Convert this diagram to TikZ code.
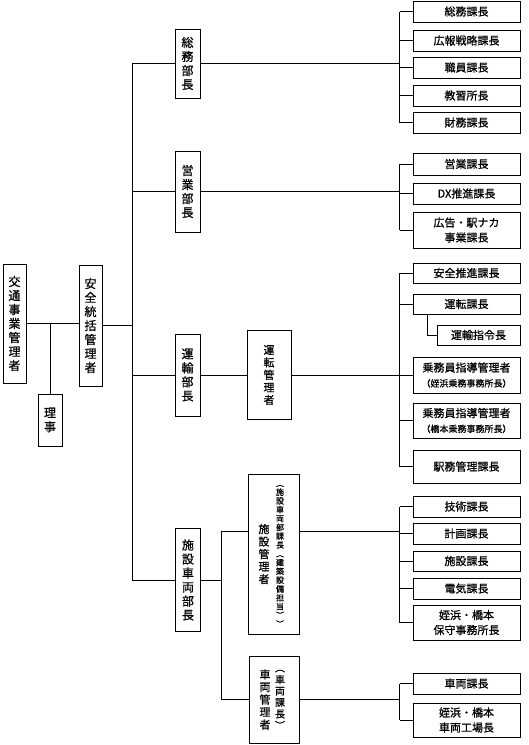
\documentclass[tikz,border=0pt]{standalone}
\usepackage{fontspec}
\setmainfont{Noto Sans CJK JP}[FakeBold=0.8]
\newcommand{\shoji}[1]{{\fontsize{9}{15}\selectfont#1}}

\begin{document}
\begin{tikzpicture}[x=1pt,y=-1pt,line width=0.7pt,
  box/.style={draw,line width=0.8pt,inner sep=0pt,align=center},
  dept/.style={box,font=\fontsize{12}{14}\selectfont},
  kanri/.style={box,font=\fontsize{11}{12.5}\selectfont},
  kaku/.style={inner sep=0pt,align=center},
  ka/.style={box,minimum width=107pt,minimum height=21pt,font=\fontsize{11}{15}\selectfont}]
\useasboundingbox (0,0) rectangle (528,745);

\node[dept,minimum width=23pt,minimum height=119pt] (kotsu) at (14.5,323.5) {交\\通\\事\\業\\管\\理\\者};
\node[dept,minimum width=24pt,minimum height=52pt] (riji) at (50,420) {理\\事};
\node[dept,minimum width=23pt,minimum height=121pt] (anzen) at (90.5,325.5) {安\\全\\統\\括\\管\\理\\者};
\coordinate (hon) at (132,0);
\draw (kotsu.east) -- (kotsu.east -| anzen.west);
\draw (riji.north) -- (riji.north |- kotsu.east);
\draw (anzen.east) -- (anzen.east -| hon);

\node[dept,minimum width=25pt,minimum height=69pt] (somu) at (187.5,63.5) {総\\務\\部\\長};
\node[dept,minimum width=25pt,minimum height=81pt] (eigyo) at (187.5,191.5) {営\\業\\部\\長};
\node[dept,minimum width=25pt,minimum height=82pt] (unyu) at (187.5,375) {運\\輸\\部\\長};
\node[dept,minimum width=25pt,minimum height=103pt] (shisha) at (188,580) {施\\設\\車\\両\\部\\長};
\draw (somu.west -| hon) -- (shisha.west -| hon);
\draw (somu.west) -- (somu.west -| hon) (eigyo.west) -- (eigyo.west -| hon)
  (unyu.west) -- (unyu.west -| hon) (shisha.west) -- (shisha.west -| hon);

\coordinate (bus) at (399.5,0);

\node[ka] (somuka) at (466.5,11.5) {総務課長};
\node[ka] (koho) at (466.5,40.5) {広報戦略課長};
\node[ka] (shokuin) at (466.5,67.5) {職員課長};
\node[ka] (kyoshu) at (466.5,95.5) {教習所長};
\node[ka] (zaimu) at (466.5,122.5) {財務課長};
\draw (somu.east) -- (somu.east -| bus);
\draw (somuka.west -| bus) -- (zaimu.west -| bus);
\draw (somuka.west) -- (somuka.west -| bus) (koho.west) -- (koho.west -| bus)
  (shokuin.west) -- (shokuin.west -| bus) (kyoshu.west) -- (kyoshu.west -| bus)
  (zaimu.west) -- (zaimu.west -| bus);

\node[ka,minimum height=22pt] (eigyoka) at (466.5,164) {営業課長};
\node[ka] (dx) at (466.5,193.5) {DX推進課長};
\node[ka,minimum height=36pt] (kokoku) at (466.5,230) {広告・駅ナカ\\事業課長};
\draw (eigyo.east) -- (eigyo.east -| bus);
\draw (eigyoka.west -| bus) -- (kokoku.west -| bus);
\draw (eigyoka.west) -- (eigyoka.west -| bus) (dx.west) -- (dx.west -| bus)
  (kokoku.west) -- (kokoku.west -| bus);

\node[kanri,minimum width=44pt,minimum height=89pt] (unten) at (269,375) {運\\転\\管\\理\\者};
\draw (unyu.east) -- (unyu.east -| unten.west);
\node[ka,minimum height=20pt] (suishin) at (466.5,273) {安全推進課長};
\node[ka,minimum height=20pt] (untenka) at (466.5,304) {運転課長};
\node[ka,minimum width=83pt,minimum height=20pt] (shirei) at (478.5,335) {運輸指令長};
\node[ka,minimum height=36pt] (jomu1) at (466.5,375) {乗務員指導管理者\\\shoji{（姪浜乗務事務所長）}};
\node[ka,minimum height=35pt] (jomu2) at (466.5,420.5) {乗務員指導管理者\\\shoji{（橋本乗務事務所長）}};
\node[ka,minimum height=33pt] (ekimu) at (466.5,466.5) {駅務管理課長};
\draw (unten.east) -- (unten.east -| bus);
\draw (suishin.west -| bus) -- (ekimu.west -| bus);
\draw (suishin.west) -- (suishin.west -| bus) (untenka.west) -- (untenka.west -| bus)
  (jomu1.west) -- (jomu1.west -| bus) (jomu2.west) -- (jomu2.west -| bus)
  (ekimu.west) -- (ekimu.west -| bus);
\draw ([xshift=15pt]untenka.south west) |- (shirei.west);

\coordinate (bus2) at (221,0);
\coordinate (shikan-y) at (0,531);
\node[box,minimum width=51pt,minimum height=160pt] (shikan) at (273.5,554) {};
\node[kanri,draw=none] (shikan-a) at ([xshift=-9.5pt]shikan.center) {施\\設\\管\\理\\者};
\node[kaku,font=\fontsize{8}{8.8}\selectfont] (shikan-b) at ([xshift=6.5pt,yshift=-2pt]shikan.center)
  {︵\\施\\設\\車\\両\\部\\課\\長\\︵\\建\\築\\設\\備\\担\\当\\︶\\︶};
\node[box,minimum width=50pt,minimum height=87pt] (shakan) at (274,699.5) {};
\node[kanri,draw=none] (shakan-a) at ([xshift=-9pt]shakan.center) {車\\両\\管\\理\\者};
\node[kaku,font=\fontsize{10}{11.5}\selectfont] (shakan-b) at ([xshift=6pt]shakan.center)
  {︵\\車\\両\\課\\長\\︶};
\draw (shisha.east) -- (shisha.east -| bus2);
\draw (bus2 |- shikan-y) -- (bus2 |- shakan.west);
\draw (bus2 |- shikan-y) -- (shikan.west |- shikan-y);
\draw (bus2 |- shakan.west) -- (shakan.west);

\node[ka] (gijutsu) at (466.5,506.5) {技術課長};
\node[ka] (keikaku) at (466.5,533.5) {計画課長};
\node[ka,minimum height=20pt] (shisetsuka) at (466.5,561) {施設課長};
\node[ka] (denki) at (466.5,588.5) {電気課長};
\node[ka,minimum height=35pt] (hoshu) at (466.5,622.5) {姪浜・橋本\\保守事務所長};
\draw (shikan.east |- shikan-y) -- (bus |- shikan-y);
\draw (gijutsu.west -| bus) -- (hoshu.west -| bus);
\draw (gijutsu.west) -- (gijutsu.west -| bus) (keikaku.west) -- (keikaku.west -| bus)
  (shisetsuka.west) -- (shisetsuka.west -| bus) (denki.west) -- (denki.west -| bus)
  (hoshu.west) -- (hoshu.west -| bus);

\node[ka] (sharyoka) at (466.5,683.5) {車両課長};
\node[ka,minimum height=34pt] (kojo) at (466.5,720) {姪浜・橋本\\車両工場長};
\draw (shakan.east) -- (shakan.east -| bus);
\draw (sharyoka.west -| bus) -- (kojo.west -| bus);
\draw (sharyoka.west) -- (sharyoka.west -| bus) (kojo.west) -- (kojo.west -| bus);
\end{tikzpicture}
\end{document}
